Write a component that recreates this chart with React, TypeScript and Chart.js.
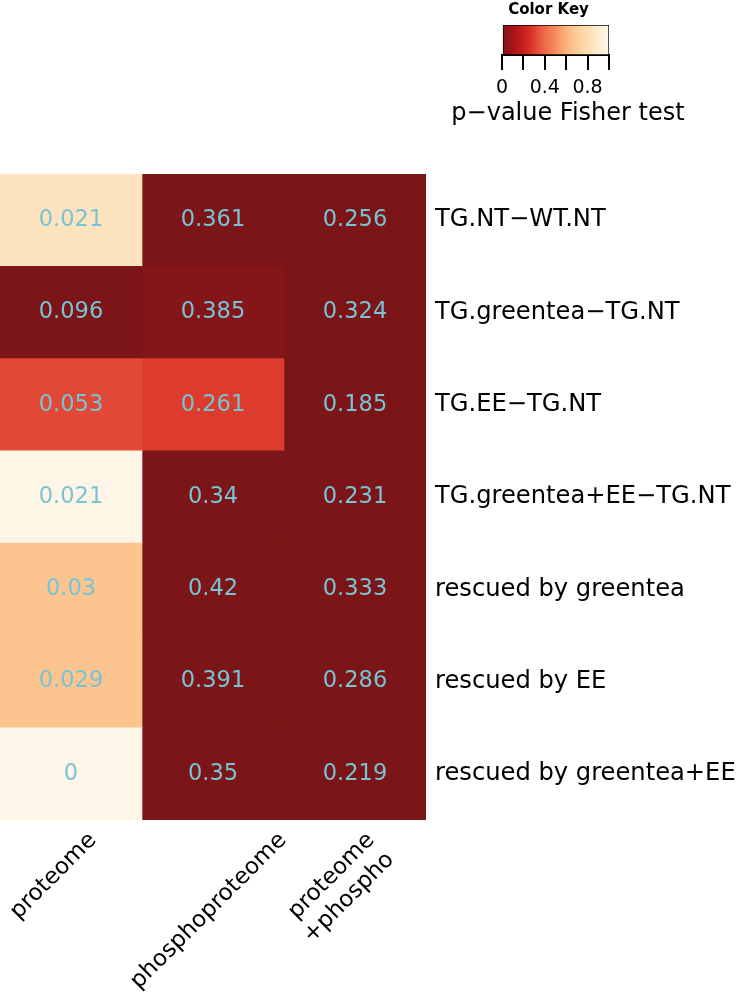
import React, { useEffect, useRef } from 'react';
import { Chart, registerables } from 'chart.js';

Chart.register(...registerables);

const FONT = "'DejaVu Sans', 'Liberation Sans', sans-serif";

// ---- data ----
const rowLabels = [
  'TG.NT\u2212WT.NT',
  'TG.greentea\u2212TG.NT',
  'TG.EE\u2212TG.NT',
  'TG.greentea+EE\u2212TG.NT',
  'rescued by greentea',
  'rescued by EE',
  'rescued by greentea+EE',
];
const columnLabels = [['proteome'], ['phosphoproteome'], ['proteome', '+phospho']];

// numbers printed in the cells
const proteomeValues = [0.021, 0.096, 0.053, 0.021, 0.03, 0.029, 0];
const phosphoproteomeValues = [0.361, 0.385, 0.261, 0.34, 0.42, 0.391, 0.35];
const combinedValues = [0.256, 0.324, 0.185, 0.231, 0.333, 0.286, 0.219];

// p-values (Fisher test) that drive the cell colours
const proteomePValues = [0.84, 0.0, 0.32, 0.98, 0.67, 0.67, 0.99];
const phosphoproteomePValues = [0.0, 0.02, 0.29, 0.0, 0.0, 0.0, 0.0];
const combinedPValues = [0.0, 0.0, 0.0, 0.0, 0.0, 0.0, 0.0];

// colour key
const keyTicks = [0, 0.2, 0.4, 0.6, 0.8, 1];
const keyTickLabels = ['0', '', '0.4', '', '0.8', ''];
const keyTitle = 'Color Key';
const keyAxisTitle = 'p\u2212value Fisher test';

// palette (reversed OrRd-like ramp)
const rampStops = [0, 0.125, 0.25, 0.375, 0.5, 0.625, 0.75, 0.875, 1];
const rampColors = ['#7c1517', '#b0141b', '#d42a22', '#ec6045', '#f88d5c', '#fcbb85', '#fdd5a2', '#fee8ca', '#fff7ec'];

const columnValues = [proteomeValues, phosphoproteomeValues, combinedValues];
const columnPValues = [proteomePValues, phosphoproteomePValues, combinedPValues];

function hexToRgb(h: string) {
  const n = parseInt(h.slice(1), 16);
  return [(n >> 16) & 255, (n >> 8) & 255, n & 255];
}

function colorFor(p: number) {
  const v = Math.max(0, Math.min(1, p));
  let i = 0;
  while (i < rampStops.length - 2 && v > rampStops[i + 1]) i++;
  const t = (v - rampStops[i]) / (rampStops[i + 1] - rampStops[i]);
  const a = hexToRgb(rampColors[i]);
  const b = hexToRgb(rampColors[i + 1]);
  const c = a.map((x, k) => Math.round(x + (b[k] - x) * t));
  return `rgb(${c[0]},${c[1]},${c[2]})`;
}

const cellTextPlugin = {
  id: 'cellText',
  afterDatasetsDraw(chart: any) {
    const ctx = chart.ctx;
    ctx.save();
    ctx.font = `22.5px ${FONT}`;
    ctx.fillStyle = '#78c3d4';
    ctx.textAlign = 'center';
    ctx.textBaseline = 'middle';
    columnValues.forEach((vals, c) => {
      const meta = chart.getDatasetMeta(c);
      meta.data.forEach((bar: any, r: number) => {
        const p = bar.getProps(['x', 'y', 'base'], true);
        ctx.fillText(String(vals[r]), (p.x + p.base) / 2, p.y);
      });
    });
    ctx.restore();
  },
};

const keyTextPlugin = {
  id: 'keyText',
  afterDraw(chart: any) {
    const { ctx, chartArea } = chart;
    const cx = (chartArea.left + chartArea.right) / 2;
    ctx.save();
    ctx.fillStyle = '#000';
    ctx.textAlign = 'center';
    ctx.textBaseline = 'middle';
    ctx.font = `bold 15px ${FONT}`;
    ctx.fillText(keyTitle, cx - 7, 10);
    ctx.font = `24px ${FONT}`;
    ctx.fillText(keyAxisTitle, cx + 12.5, 114);
    ctx.restore();
  },
};

const columnTicks = (s: any, cols: number[]) => {
  s.ticks = cols.map((i) => ({ value: i + 0.5 }));
};

const columnTickOptions = (offset: number) => ({
  autoSkip: false,
  minRotation: 45,
  maxRotation: 45,
  labelOffset: offset,
  padding: 7,
  color: '#000',
  font: { family: FONT, size: 23 },
  callback: (v: any) => columnLabels[Math.floor(Number(v))],
});

// one extra x axis pinned to the bottom edge of the heatmap, for one column label
const pinnedColumnAxis = (col: number, offset: number) => ({
  type: 'linear',
  axis: 'x',
  position: { y: rowLabels.length - 0.5 },
  min: 0,
  max: columnLabels.length,
  afterBuildTicks: (s: any) => columnTicks(s, [col]),
  ticks: columnTickOptions(offset),
  grid: { display: false, drawTicks: false },
  border: { display: false },
  afterFit: (s: any) => {
    s.paddingLeft = 0;
    s.paddingRight = 0;
  },
});

export default function App() {
  const mainRef = useRef<HTMLCanvasElement>(null);
  const keyRef = useRef<HTMLCanvasElement>(null);

  useEffect(() => {
    const main = new Chart(mainRef.current as HTMLCanvasElement, {
      type: 'bar',
      data: {
        labels: rowLabels,
        datasets: columnValues.map((vals, c) => ({
          label: columnLabels[c].join(' '),
          data: rowLabels.map(() => [c, c + 1]),
          backgroundColor: columnPValues[c].map(colorFor),
          borderWidth: 0,
          grouped: false,
          barPercentage: 1,
          categoryPercentage: 1,
        })),
      } as any,
      options: {
        indexAxis: 'y',
        animation: false,
        responsive: false,
        events: [],
        layout: { padding: { top: 174, left: 0, right: 0, bottom: 0 } },
        plugins: { legend: { display: false }, tooltip: { enabled: false } },
        scales: {
          x: {
            type: 'linear',
            position: 'bottom',
            min: 0,
            max: columnLabels.length,
            afterBuildTicks: (s: any) => columnTicks(s, [2]),
            ticks: columnTickOptions(16),
            grid: { display: false, drawTicks: false },
            border: { display: false },
            afterFit: (s: any) => {
              s.height = 177;
              s.paddingLeft = 0;
              s.paddingRight = 0;
            },
          },
          x1: pinnedColumnAxis(0, 22),
          x2: pinnedColumnAxis(1, 70),
          y: {
            type: 'category',
            position: 'right',
            ticks: {
              padding: 9,
              color: '#000',
              font: { family: FONT, size: 24.2 },
            },
            grid: { display: false, drawTicks: false },
            border: { display: false },
            afterFit: (s: any) => {
              s.width = 313;
              s.paddingTop = 0;
              s.paddingBottom = 0;
            },
          },
        },
      } as any,
      plugins: [cellTextPlugin],
    });

    const key = new Chart(keyRef.current as HTMLCanvasElement, {
      type: 'bar',
      data: {
        labels: [''],
        datasets: [
          {
            data: [[keyTicks[0], keyTicks[keyTicks.length - 1]]],
            backgroundColor: (ctx: any) => {
              const { chart } = ctx;
              if (!chart.chartArea) return rampColors[0];
              const xs = chart.scales.x;
              const g = chart.ctx.createLinearGradient(xs.getPixelForValue(0), 0, xs.getPixelForValue(1), 0);
              rampStops.forEach((s, i) => g.addColorStop(s, rampColors[i]));
              return g;
            },
            borderColor: '#000',
            borderWidth: 1,
            borderSkipped: false,
            barPercentage: 1,
            categoryPercentage: 1,
          },
        ],
      } as any,
      options: {
        indexAxis: 'y',
        animation: false,
        responsive: false,
        events: [],
        layout: { padding: { left: 62, right: 130, top: 25, bottom: 0 } },
        plugins: { legend: { display: false }, tooltip: { enabled: false } },
        scales: {
          x: {
            type: 'linear',
            min: 0,
            max: 1,
            afterBuildTicks: (s: any) => {
              s.ticks = keyTicks.map((v) => ({ value: v }));
            },
            ticks: {
              autoSkip: false,
              minRotation: 0,
              maxRotation: 0,
              padding: 7,
              color: '#000',
              font: { family: FONT, size: 19 },
              callback: (_v: any, i: number) => keyTickLabels[i],
            },
            grid: { drawOnChartArea: false, drawTicks: true, tickLength: 15, color: '#000', lineWidth: 2 },
            border: { display: true, color: '#000', width: 2 },
            afterFit: (s: any) => {
              s.height = 85;
              s.paddingLeft = 0;
              s.paddingRight = 0;
            },
          },
          y: { display: false },
        },
      } as any,
      plugins: [keyTextPlugin],
    });

    return () => {
      main.destroy();
      key.destroy();
    };
  }, []);

  return (
    <div style={{ position: 'absolute', left: 0, top: 0, width: 739, height: 997, background: '#fff' }}>
      <canvas ref={mainRef} width={739} height={997} style={{ position: 'absolute', left: 0, top: 0 }} />
      <canvas ref={keyRef} width={299} height={140} style={{ position: 'absolute', left: 440, top: 0 }} />
    </div>
  );
}
